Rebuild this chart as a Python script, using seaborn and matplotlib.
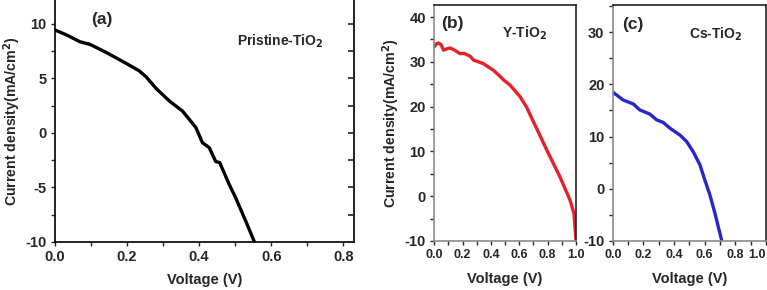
import matplotlib
matplotlib.use("Agg")
import matplotlib.pyplot as plt
import seaborn as sns
import pandas as pd
from matplotlib.ticker import MultipleLocator, FormatStrFormatter

# ---- data ----
a_v = [0.0, 0.035, 0.069, 0.097, 0.143, 0.189, 0.234, 0.253, 0.28, 0.317, 0.354,
       0.391, 0.409, 0.428, 0.446, 0.457, 0.483, 0.501, 0.529, 0.554]
a_j = [9.45, 8.95, 8.37, 8.13, 7.37, 6.54, 5.69, 5.14, 4.1, 2.94, 2.0,
       0.49, -0.89, -1.35, -2.63, -2.72, -4.7, -5.93, -8.07, -10.06]

b_v = [0.0, 0.015, 0.03, 0.05, 0.066, 0.09, 0.113, 0.15, 0.183, 0.21, 0.254, 0.277,
       0.347, 0.418, 0.46, 0.488, 0.535, 0.606, 0.653, 0.7, 0.723, 0.794, 0.887,
       0.958, 0.986, 1.0]
b_j = [33.3, 34.0, 34.2, 33.8, 32.6, 32.9, 33.1, 32.5, 31.8, 31.9, 31.25, 30.4,
       29.6, 28.1, 26.9, 26.0, 24.8, 22.2, 19.8, 16.6, 15.1, 10.3, 4.3,
       -0.9, -3.9, -9.8]

c_v = [0.0, 0.067, 0.133, 0.176, 0.242, 0.286, 0.329, 0.373, 0.438, 0.482, 0.525,
       0.569, 0.601, 0.634, 0.667, 0.71]
c_j = [18.5, 17.0, 16.25, 15.1, 14.3, 13.2, 12.7, 11.6, 10.3, 9.05, 7.1,
       4.6, 1.7, -1.15, -4.65, -9.75]

panel_labels = ["(a)", "(b)", "(c)"]
sample_names = ["Pristine-TiO$_2$", "Y-TiO$_2$", "Cs-TiO$_2$"]
ylabel_text = "Current density(mA/cm$^2$)"
xlabel_text = "Voltage (V)"

# ---- style ----
sns.set_style("ticks")
plt.rcParams["font.family"] = ["Liberation Sans", "DejaVu Sans"]
plt.rcParams["font.weight"] = "bold"
plt.rcParams["mathtext.default"] = "bf"
plt.rcParams["axes.unicode_minus"] = False

fig = plt.figure(figsize=(7.67, 2.9), dpi=100)

ax_a = fig.add_axes([0.0717, 0.166, 0.390, 0.834])
ax_b = fig.add_axes([0.566, 0.169, 0.185, 0.814])
ax_c = fig.add_axes([0.799, 0.169, 0.1995, 0.814])

df_a = pd.DataFrame({"V": a_v, "J": a_j})
df_b = pd.DataFrame({"V": b_v, "J": b_j})
df_c = pd.DataFrame({"V": c_v, "J": c_j})

sns.lineplot(data=df_a, x="V", y="J", ax=ax_a, color="black", lw=2.4, sort=False)
sns.lineplot(data=df_b, x="V", y="J", ax=ax_b, color="#e8202a", lw=2.4, sort=False)
sns.lineplot(data=df_c, x="V", y="J", ax=ax_c, color="#2626cf", lw=2.4, sort=False)


def style(ax, xlim, ylim, xmaj, xmin, ymaj, ymin, spine_gray, xfs, yfs):
    ax.set_xlim(*xlim)
    ax.set_ylim(*ylim)
    ax.xaxis.set_major_locator(MultipleLocator(xmaj))
    ax.xaxis.set_minor_locator(MultipleLocator(xmin))
    ax.yaxis.set_major_locator(MultipleLocator(ymaj))
    ax.yaxis.set_minor_locator(MultipleLocator(ymin))
    ax.xaxis.set_major_formatter(FormatStrFormatter("%.1f"))
    ax.yaxis.set_major_formatter(FormatStrFormatter("%d"))
    ax.tick_params(which="both", direction="out", length=3, width=1,
                   pad=3, top=False, right=False)
    ax.tick_params(axis="x", labelsize=xfs)
    ax.tick_params(axis="y", labelsize=yfs)
    for s in ["left", "bottom"]:
        ax.spines[s].set_color(spine_gray)
        ax.spines[s].set_linewidth(1.2)
    for s in ["right", "top"]:
        ax.spines[s].set_color("#222222")
        ax.spines[s].set_linewidth(1.2)
    ax.set_xlabel("")
    ax.set_ylabel("")

style(ax_a, (0, 0.83), (-10, 12.2), 0.2, 0.1, 5, 2.5, "black", 10.5, 10.5)
style(ax_b, (0, 1.0), (-10, 42.7), 0.2, 0.1, 10, 5, "#8a8a8a", 9, 10.5)
style(ax_c, (0, 1.0), (-10, 35.2), 0.2, 0.1, 10, 5, "#8a8a8a", 9, 10.5)
ax_a.spines["top"].set_visible(False)

# mirrored inward ticks on the right side of panel (a)
tw = ax_a.twinx()
tw.set_ylim(ax_a.get_ylim())
tw.yaxis.set_major_locator(MultipleLocator(2.5))
tw.yaxis.set_ticks_position("right")
tw.tick_params(axis="y", which="major", direction="in", length=4, width=1.2,
               labelright=False, right=True, left=False, colors="#222222")
for s in ["left", "top", "bottom"]:
    tw.spines[s].set_visible(False)
tw.spines["right"].set_color("#222222")
tw.spines["right"].set_linewidth(1.2)
tw.set_ylabel("")

# axis labels
ax_a.set_xlabel(xlabel_text, fontsize=10.5, fontweight="bold", labelpad=6)
ax_b.set_xlabel(xlabel_text, fontsize=10.5, fontweight="bold", labelpad=8)
ax_c.set_xlabel(xlabel_text, fontsize=10.5, fontweight="bold", labelpad=8)
ax_a.set_ylabel(ylabel_text, fontsize=10.2, fontweight="bold", labelpad=2)
ax_b.set_ylabel(ylabel_text, fontsize=10.2, fontweight="bold", labelpad=2)

# keep the last tick label of panel (c) inside the figure like the reference
fig.canvas.draw()
for tk in ax_c.xaxis.get_major_ticks():
    if abs(tk.get_loc() - 1.0) < 1e-6:
        tk.label1.set_horizontalalignment("right")

# panel labels and sample names
ax_a.text(0.12, 0.92, panel_labels[0], transform=ax_a.transAxes,
          fontsize=12.5, fontweight="bold", ha="left", va="center")
ax_a.text(0.61, 0.83, sample_names[0], transform=ax_a.transAxes,
          fontsize=10, fontweight="bold", ha="left", va="center")
ax_b.text(0.05, 0.92, panel_labels[1], transform=ax_b.transAxes,
          fontsize=12.5, fontweight="bold", ha="left", va="center")
ax_b.text(0.48, 0.88, sample_names[1], transform=ax_b.transAxes,
          fontsize=10, fontweight="bold", ha="left", va="center")
ax_c.text(0.06, 0.915, panel_labels[2], transform=ax_c.transAxes,
          fontsize=12.5, fontweight="bold", ha="left", va="center")
ax_c.text(0.50, 0.875, sample_names[2], transform=ax_c.transAxes,
          fontsize=10, fontweight="bold", ha="left", va="center")

fig.savefig("out.png", dpi=100)
